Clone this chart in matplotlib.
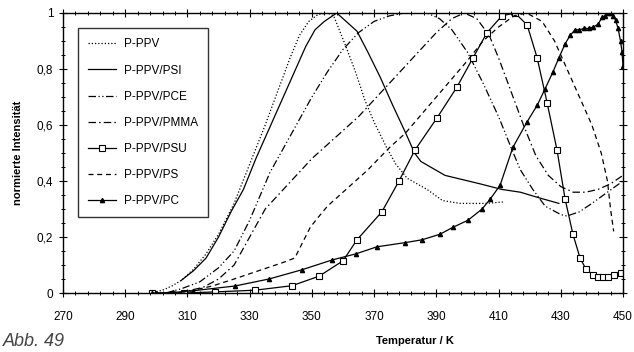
import numpy as np
import matplotlib.pyplot as plt
from matplotlib.ticker import MultipleLocator, AutoMinorLocator, FuncFormatter

plt.rcParams['font.family'] = ['Liberation Sans', 'DejaVu Sans']

# P-PPV (dotted)
t_ppv = [298, 302, 305, 308, 312, 316, 320, 325, 330, 335, 340, 343, 346, 349, 352, 355, 357,
         360.6, 364, 367, 370, 374, 377, 380.6, 387, 392, 397.6, 406, 411.4]
i_ppv = [0.0, 0.01, 0.025, 0.045, 0.085, 0.14, 0.21, 0.32, 0.46, 0.6, 0.75, 0.84, 0.92, 0.97, 0.995, 1.0, 0.99,
         0.89, 0.79, 0.69, 0.61, 0.52, 0.46, 0.41, 0.37, 0.33, 0.32, 0.32, 0.325]

# P-PPV/PSI (solid)
t_psi = [308, 312, 316, 320, 324, 328, 332, 336, 340, 344, 348, 351, 354, 358, 364.5, 368, 372,
         376, 380, 383, 385, 392.8, 404, 411, 417, 423, 429.4]
i_psi = [0.045, 0.08, 0.125, 0.2, 0.29, 0.37, 0.48, 0.58, 0.68, 0.78, 0.88, 0.94, 0.97, 1.0, 0.935, 0.86, 0.77,
         0.67, 0.575, 0.5, 0.47, 0.42, 0.39, 0.37, 0.36, 0.34, 0.32]

# P-PPV/PCE (dash-dot-dot)
t_pce = [303, 308, 314, 320, 325, 330, 336.5, 340, 345, 350, 355, 360, 365, 370, 375, 380, 387, 391,
         395, 400, 405, 410, 414, 417, 421, 425, 430, 432, 436, 440, 445, 450]
i_pce = [0.0, 0.015, 0.04, 0.09, 0.15, 0.26, 0.43, 0.5, 0.6, 0.7, 0.79, 0.87, 0.93, 0.97, 0.99, 1.0, 1.0, 0.98,
         0.94, 0.86, 0.75, 0.63, 0.52, 0.44, 0.37, 0.31, 0.28, 0.275, 0.29, 0.32, 0.36, 0.4]

# P-PPV/PMMA (dash-dot)
t_pmma = [307, 315, 320, 325, 330, 335, 340, 345, 350, 355, 360, 365, 370, 375, 380, 385, 390, 395,
          399, 403, 407, 410, 414, 418, 422, 426, 430, 434, 438, 442, 446, 450]
i_pmma = [0.0, 0.02, 0.05, 0.1, 0.2, 0.3, 0.36, 0.42, 0.48, 0.53, 0.58, 0.63, 0.69, 0.75, 0.81, 0.87, 0.93, 0.98,
          1.0, 0.98, 0.92, 0.84, 0.72, 0.6, 0.49, 0.42, 0.38, 0.36, 0.36, 0.37, 0.39, 0.42]

# P-PPV/PSU (solid, open squares)
t_psu = [298.6, 309, 319, 331.7, 343.6, 352.3, 360, 364.5, 372.5, 378, 383.1, 390.2, 396.6, 401.8, 406.3,
         411.1, 415.3, 419.2, 422.4, 425.6, 428.8, 431.4, 433.9, 436.2, 438.1, 440.4, 442, 443.6, 445.2,
         447.1, 449.4]
i_psu = [0.0, 0.0, 0.004, 0.01, 0.026, 0.06, 0.115, 0.19, 0.29, 0.4, 0.51, 0.625, 0.735, 0.84, 0.93,
         0.99, 1.0, 0.957, 0.84, 0.68, 0.51, 0.335, 0.21, 0.125, 0.085, 0.064, 0.057, 0.057, 0.057,
         0.064, 0.07]

# P-PPV/PS (dashed)
t_ps = [305, 310, 318, 325, 333, 341, 344.5, 347, 349.5, 352, 355, 361, 368, 375, 380, 390, 400, 405, 410, 415,
        419, 424, 428, 432, 436, 440, 443, 445, 446, 447]
i_ps = [0.0, 0.005, 0.025, 0.05, 0.08, 0.11, 0.125, 0.18, 0.235, 0.27, 0.31, 0.37, 0.44, 0.52, 0.57, 0.7, 0.83, 0.9,
        0.95, 0.99, 1.0, 0.97, 0.9, 0.8, 0.7, 0.6, 0.5, 0.4, 0.3, 0.22]

# P-PPV/PC (solid, filled triangles)
t_pc = [298.6, 300, 305.5, 311.8, 325.3, 336.2, 346.8, 356.5, 364.2, 370.9, 380, 385.4, 391.2, 395.4,
        400.2, 404.7, 407.3, 410.5, 414.6, 419.1, 422.4, 425, 427.5, 429.4, 431.4, 433, 434.6, 436, 437.5,
        439, 440.5, 442, 443.3, 444.3, 445.2, 446, 446.8, 447.6, 448.4, 449.2, 449.7, 450]
i_pc = [0.0, 0.0, 0.002, 0.008, 0.025, 0.05, 0.083, 0.118, 0.14, 0.165, 0.18, 0.19, 0.21, 0.235,
        0.26, 0.3, 0.335, 0.385, 0.52, 0.61, 0.67, 0.73, 0.79, 0.84, 0.89, 0.92, 0.94, 0.94, 0.945,
        0.945, 0.95, 0.96, 0.985, 0.99, 1.0, 1.0, 0.99, 0.975, 0.946, 0.9, 0.86, 0.81]

x_ticks = [270, 290, 310, 330, 350, 370, 390, 410, 430, 450]

fig = plt.figure(figsize=(6.34, 3.52), dpi=100)
ax = fig.add_axes([63/634, (352-293)/352, 560/634, 280/352])

lw = 0.9
ax.plot(t_ppv, i_ppv, color='black', lw=lw, ls=(0, (1, 1.6)), label='P-PPV')
ax.plot(t_psi, i_psi, color='black', lw=lw, ls='-', label='P-PPV/PSI')
ax.plot(t_pce, i_pce, color='black', lw=lw, ls=(0, (6, 2, 1, 2, 1, 2)), label='P-PPV/PCE')
ax.plot(t_pmma, i_pmma, color='black', lw=lw, ls=(0, (6, 2.5, 1.2, 2.5)), label='P-PPV/PMMA')
ax.plot(t_psu, i_psu, color='black', lw=lw, ls='-', marker='s', ms=3.8, mfc='white', mec='black',
        mew=0.8, label='P-PPV/PSU')
ax.plot(t_ps, i_ps, color='black', lw=lw, ls=(0, (4, 3)), label='P-PPV/PS')
ax.plot(t_pc, i_pc, color='black', lw=lw, ls='-', marker='^', ms=3, mfc='black', mec='black',
        label='P-PPV/PC')

ax.set_xlim(270, 450)
ax.set_ylim(0, 1)
ax.set_xticks(x_ticks)
ax.xaxis.set_minor_locator(AutoMinorLocator(5))
ax.yaxis.set_major_locator(MultipleLocator(0.2))
ax.yaxis.set_minor_locator(AutoMinorLocator(4))
ax.yaxis.set_major_formatter(FuncFormatter(lambda v, p: ('%g' % round(v, 2)).replace('.', ',')))
ax.tick_params(which='both', top=True, right=True, direction='inout', labelsize=8.5, pad=4)
ax.tick_params(which='major', length=6, width=0.8)
ax.tick_params(which='minor', length=3.5, width=0.7)
ax.tick_params(axis='x', pad=10)
for s in ax.spines.values():
    s.set_linewidth(1.0)

ax.set_ylabel('normierte Intensität', fontsize=8, fontweight='bold', labelpad=10)
ax.set_xlabel('Temperatur / K', fontsize=8, fontweight='bold')
ax.xaxis.set_label_coords((415-63)/560, -0.155)

leg = ax.legend(loc='upper left', bbox_to_anchor=(0.027, 0.945), fontsize=8.5, frameon=True,
                fancybox=False, edgecolor='black', handlelength=2.4, handletextpad=0.6,
                labelspacing=1.2, borderpad=0.85, borderaxespad=0)
leg.get_frame().set_linewidth(1.0)

fig.text(0.004, 0.018, 'Abb. 49', fontsize=13, color='#444444', style='italic',
         ha='left', va='baseline', fontweight='light')

fig.savefig('out.png', dpi=100)
